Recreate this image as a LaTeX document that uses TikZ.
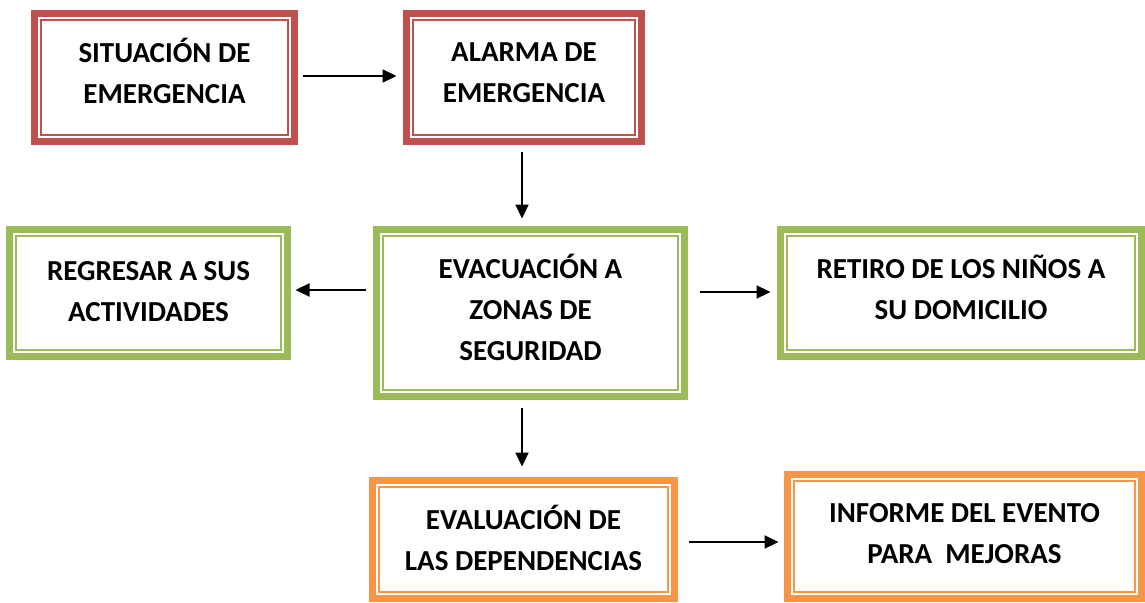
\documentclass[tikz,border=0pt]{standalone}
\usepackage{fontspec}
\setmainfont{Carlito}
\usetikzlibrary{arrows.meta}
\definecolor{bred}{HTML}{C0504D}
\definecolor{bgreen}{HTML}{9BBB59}
\definecolor{borange}{HTML}{F79646}
\tikzset{
  box/.style={draw=#1, line width=7pt, fill=white, rectangle, inner sep=0pt, align=center,
    font=\fontsize{29}{41}\selectfont\bfseries,
    path picture={\draw[#1, line width=1.6pt]
      ([shift={(6.5pt,-6.5pt)}]path picture bounding box.north west) rectangle
      ([shift={(-6.5pt,6.5pt)}]path picture bounding box.south east);}},
  arr/.style={line width=2.2pt, -{Triangle[length=14pt,width=13pt]}}
}
\begin{document}
\begin{tikzpicture}[x=1pt,y=-1pt]
\useasboundingbox[fill=white] (0,0) rectangle (1145,602);
\node[box=bred, minimum width=260pt, minimum height=128pt, text depth=14pt] (sit) at (164.5,77.5) {SITUACIÓN DE\\EMERGENCIA};
\node[box=bred, minimum width=235pt, minimum height=128pt, text depth=10pt] (alarma) at (524,77.5) {ALARMA DE\\EMERGENCIA};
\node[box=bgreen, minimum width=278pt, minimum height=127pt, text depth=4pt] (regresar) at (148.5,293) {REGRESAR A SUS\\ACTIVIDADES};
\node[box=bgreen, minimum width=308pt, minimum height=167pt, text depth=11pt] (evac) at (530.5,313) {EVACUACIÓN A\\ZONAS DE\\SEGURIDAD};
\node[box=bgreen, minimum width=361pt, minimum height=127pt, text depth=11pt] (retiro) at (961,293) {RETIRO DE LOS NIÑOS A\\SU DOMICILIO};
\node[box=borange, minimum width=302pt, minimum height=118pt, text depth=4pt] (eval) at (523.5,539.5) {EVALUACIÓN DE\\LAS DEPENDENCIAS};
\node[box=borange, minimum width=354pt, minimum height=124pt, text depth=6pt] (informe) at (964.5,536.5) {INFORME DEL EVENTO\\PARA\ \ MEJORAS};
\draw[arr] ([shift={(4.5pt,1.5pt)}]sit.east) -- ([shift={(-6.5pt,1.5pt)}]alarma.west);
\draw[arr] ([shift={(-2pt,-6.5pt)}]alarma.south) -- ([shift={(-8.5pt,7.5pt)}]evac.north);
\draw[arr] ([shift={(-7.5pt,23pt)}]evac.west) -- ([shift={(4.5pt,3pt)}]regresar.east);
\draw[arr] ([shift={(12pt,21pt)}]evac.east) -- ([shift={(-6.5pt,1pt)}]retiro.west);
\draw[arr] ([shift={(-8.5pt,-7.5pt)}]evac.south) -- ([shift={(-1.5pt,10.5pt)}]eval.north);
\draw[arr] ([shift={(11pt,-2.5pt)}]eval.east) -- ([shift={(-5.5pt,-5.5pt)}]informe.west);
\end{tikzpicture}
\end{document}
